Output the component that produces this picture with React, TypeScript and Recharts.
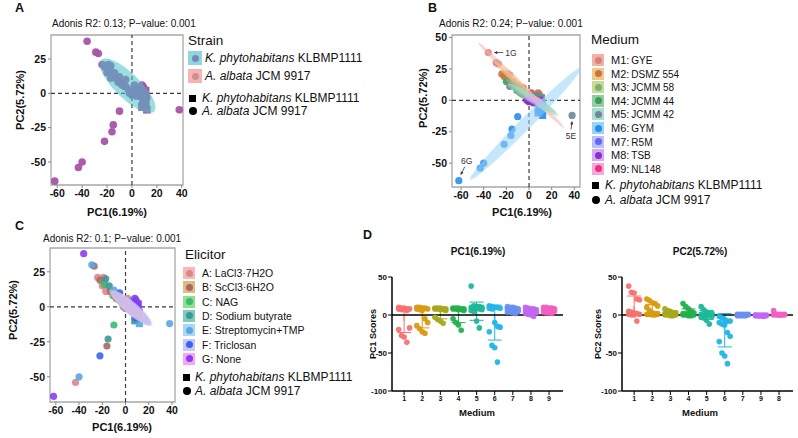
import React from 'react';
import {
  Bar,
  Cell,
  ComposedChart,
  ErrorBar,
  ReferenceArea,
  ReferenceLine,
  Scatter,
  XAxis,
  YAxis,
} from 'recharts';

const FONT = "'Liberation Sans', Arial, Helvetica, sans-serif";

// ---- labels ----
const mediumCodes = ['M1', 'M2', 'M3', 'M4', 'M5', 'M6', 'M7', 'M8', 'M9'];
const mediumNames = ['GYE', 'DSMZ 554', 'JCMM 58', 'JCMM 44', 'JCMM 42', 'GYM', 'R5M', 'TSB', 'NL148'];
const elicitorCodes = ['A', 'B', 'C', 'D', 'E', 'F', 'G'];
const elicitorNames = ['LaCl3·7H2O', 'ScCl3·6H2O', 'NAG', 'Sodium butyrate', 'Streptomycin+TMP', 'Triclosan', 'None'];
const adonisTitles = ['Adonis R2: 0.13; P−value: 0.001', 'Adonis R2: 0.24; P−value: 0.001', 'Adonis R2: 0.1; P−value: 0.001'];

// ---- PCA scores: per medium, one [PC1, PC2] pair per elicitor A..G ----
const albataScores: number[][][] = [
  [[-19, 21], [-27, 29], [8, -8], [-17, 20], [-29, 30], [9, 5], [-36, 38]],
  [[-24, 21], [-22, 19], [-18, 16], [-14, 15], [-10, 12], [-5, 10], [8, 6]],
  [[-11, 8], [-8, 6], [-6, 5], [-3, 3], [8, 1], [9, 0], [7, 2]],
  [[-20, 15], [-13, 11], [-10, 8], [-5, 5], [8, 3], [9, 1], [7, 0]],
  [[-17, 11], [-8, 7], [5, 4], [9, 2], [38, -12], [10, 0], [12, -3]],
  [[-43, -54], [-16, -28], [-10, -13], [-15, -23], [-40, -50], [-22, -35], [-62, -64]],
  [[2, 1], [4, 0], [6, -1], [8, 1], [10, 0], [11, -1], [5, 0]],
  [[-2, 0], [0, -1], [2, -1], [4, 0], [6, -1], [8, 0], [10, -1]],
  [[2, 6], [3, 0], [5, 1], [7, 0], [9, 1], [10, 0], [4, 0]],
];
const phytoScores: number[][][] = [
  [[8, 3], [7, 2], [10, 1], [9, 0], [6, 4], [8, 1], [7, 0]],
  [[9, 3], [10, 2], [7, 1], [9, 0], [8, 2], [10, 1], [6, 0]],
  [[8, -1], [9, 1], [6, 0], [8, 3], [7, -1], [9, 2], [8, 0]],
  [[8, 2], [9, -1], [6, 1], [8, 0], [7, 2], [9, 0], [8, -1]],
  [[11, -7], [8, -2], [6, 1], [9, -1], [7, 0], [10, -4], [11, 2]],
  [[10, -2], [9, -4], [11, -8], [8, -10], [12, -12], [10, -8], [9, -6]],
  [[7, 1], [9, -1], [3, 0], [6, 1], [8, 0], [10, 1], [4, -1]],
  [[3, 0], [5, -2], [7, -1], [9, 0], [1, -1], [6, 0], [8, -1]],
  [[6, 1], [8, 0], [10, 1], [5, 0], [7, 1], [9, 0], [3, 1]],
];

// confidence ellipses: [x1, y1, x2, y2, half width] (major axis ends, data units)
const strainEllipse = [-25, 24, 18, -13, 9.5];
const mediumEllipses = [
  [-45, 46, 31, -22, 2.4],
  [-31, 31, 20, -12, 2.6],
  [-16, 13, 23, -9, 2.4],
  [-21, 17, 24, -11, 2.6],
  [-19, 13, 26, -12, 3.2],
  [-52, -63, 46, 26, 5],
  [-3, 3, 13, -3, 2],
  [-5, 4, 12, -3, 2.2],
  [0, 3, 12, 0, 1.8],
];
const elicitorEllipses = [
  [-12, 11, 21, -12, 4.4],
  [-13, 11, 20, -11, 4],
  [-10, 9, 20, -12, 4],
  [-11, 9, 22, -13, 4.6],
  [-14, 12, 23, -13, 4.6],
  [-13, 11, 22, -12, 4.8],
  [-12, 10, 21, -12, 4.4],
];

// callouts in panel B
const callouts = [
  { text: '1G', medium: 0, elicitor: 6 },
  { text: '5E', medium: 4, elicitor: 4 },
  { text: '6G', medium: 5, elicitor: 6 },
];

// ---- panel D: bar means and SDs per medium ----
const pc1Mean = [-8, -5, 2, -1, 5, -10, 6, 5, 7];
const pc1Sd = [15, 12, 7, 9, 12, 23, 4, 4, 3];
const pc2Mean = [12, 6, 3, 3, 0, -20, 0, -1, 1];
const pc2Sd = [13, 8, 3, 5, 6, 22, 1, 1, 2];
const pc1TickLabels = ['1', '2', '3', '4', '5', '6', '7', '8', '9'];
const pc2TickLabels = ['1', '2', '3', '4', '5', '6', '7', '9', '8'];

const pcaTicksX = [-60, -40, -20, 0, 20, 40];
const pcaTicksYA = [-50, -25, 0, 25];
const pcaTicksYB = [-50, -25, 0, 25, 50];
const scoreTicks = [-100, -50, 0, 50];
const mediumTicks = [1, 2, 3, 4, 5, 6, 7, 8, 9];

// ---- colours ----
const strainPoint = '#a653a9';
const mediumDot = ['#d9827d', '#c7743f', '#76b46a', '#3f9a62', '#6f8797', '#2a8cf0', '#6666f2', '#8a2fc8', '#f0307f'];
const mediumBg = ['#f5b0a8', '#f2c88a', '#c8dc98', '#8fd09c', '#a8dcd4', '#98d4f6', '#b8c0fa', '#d8a8f4', '#f8a8d8'];
const elicitorDot = ['#d88888', '#a86a5e', '#3cba70', '#3a9898', '#5aa6e4', '#3a64f0', '#8a3cf0'];
const elicitorBg = ['#f6b8b8', '#e0bc80', '#8ee08e', '#80ccbc', '#a8d8f4', '#c8c8f8', '#f4a8f4'];
const scoreColors = ['#f4736f', '#d99a0e', '#a8a81a', '#22b14c', '#1bb89a', '#22b5e6', '#6a8ff2', '#c266f2', '#f05fc0'];
// drawing order of medium groups in panel B
const mediumDrawOrder = [8, 6, 0, 1, 2, 3, 4, 7, 5];

type Sample = { x: number; y: number; medium: number; elicitor: number; strain: 'K' | 'A' };
const samples: Sample[] = [];
albataScores.forEach((row, m) => row.forEach(([x, y], e) => samples.push({ x, y, medium: m, elicitor: e, strain: 'A' })));
phytoScores.forEach((row, m) => row.forEach(([x, y], e) => samples.push({ x, y, medium: m, elicitor: e, strain: 'K' })));

// outline of an ellipse given by its major-axis ends and half width
const ellipseOutline = ([x1, y1, x2, y2, half]: number[], n = 72) => {
  const h = (x1 + x2) / 2;
  const k = (y1 + y2) / 2;
  const a = Math.hypot(x2 - x1, y2 - y1) / 2;
  const t = Math.atan2(y2 - y1, x2 - x1);
  const c = Math.cos(t);
  const s = Math.sin(t);
  const out: { x: number; y: number }[] = [];
  for (let i = 0; i < n; i++) {
    const p = (2 * Math.PI * i) / n;
    const u = a * Math.cos(p);
    const v = half * Math.sin(p);
    out.push({ x: h + u * c - v * s, y: k + u * s + v * c });
  }
  return out;
};

const dotShape = (color: string, r: number, opacity = 0.9) => (p: any) => {
  const { cx, cy, payload } = p;
  if (!Number.isFinite(cx) || !Number.isFinite(cy)) return <g />;
  return payload && payload.strain === 'K' ? (
    <rect x={cx - r} y={cy - r} width={2 * r} height={2 * r} fill={color} fillOpacity={opacity} />
  ) : (
    <circle cx={cx} cy={cy} r={r} fill={color} fillOpacity={opacity} />
  );
};

const calloutLayout: Record<string, any> = {
  '1G': { tx: 17, ty: 0, anchor: 'start', ax1: 15, ay1: 0, ax2: 6, ay2: 0 },
  '5E': { tx: -1, ty: 21, anchor: 'middle', ax1: -1, ay1: 14, ax2: 0, ay2: 6 },
  '6G': { tx: 8, ty: -20, anchor: 'middle', ax1: 6, ay1: -14, ax2: 2, ay2: -6 },
};

const calloutShape = (p: any) => {
  const { cx, cy, payload } = p;
  if (!Number.isFinite(cx) || !Number.isFinite(cy)) return <g />;
  const o = calloutLayout[payload.text];
  const sx = cx + o.ax1, sy = cy + o.ay1, ex = cx + o.ax2, ey = cy + o.ay2;
  const len = Math.hypot(ex - sx, ey - sy) || 1;
  const ux = (ex - sx) / len, uy = (ey - sy) / len;
  const head = `${ex},${ey} ${ex - 3 * ux - 1.6 * uy},${ey - 3 * uy + 1.6 * ux} ${ex - 3 * ux + 1.6 * uy},${ey - 3 * uy - 1.6 * ux}`;
  return (
    <g>
      <line x1={sx} y1={sy} x2={ex} y2={ey} stroke="#333" strokeWidth={0.8} />
      <polygon points={head} fill="#333" />
      <text x={cx + o.tx} y={cy + o.ty} fontSize={8.5} fill="#333" textAnchor={o.anchor} dominantBaseline="central" fontFamily={FONT}>
        {payload.text}
      </text>
    </g>
  );
};

const tickStyle = { fontSize: 10.5, fontWeight: 700, fill: '#111', fontFamily: FONT };

type Frame = {
  left: number; top: number; width: number; height: number;
  mTop: number; mRight: number; yW: number; xH: number;
  xd: number[]; yd: number[]; yTicks: number[];
};

const PcaChart = ({ f, items }: { f: Frame; items: React.ReactNode[] }) => (
  <div style={{ position: 'absolute', left: f.left, top: f.top }}>
    <ComposedChart width={f.width} height={f.height} margin={{ top: f.mTop, right: f.mRight, bottom: 0, left: 0 }}>
      <XAxis type="number" dataKey="x" domain={f.xd} ticks={pcaTicksX} interval={0} allowDataOverflow axisLine={false}
        tickLine={{ stroke: '#888' }} tickSize={3} tickMargin={2} height={f.xH} tick={tickStyle} />
      <YAxis type="number" dataKey="y" domain={f.yd} ticks={f.yTicks} interval={0} allowDataOverflow axisLine={false}
        tickLine={{ stroke: '#888' }} tickSize={3} tickMargin={2} width={f.yW} tick={tickStyle} />
      {items}
      <ReferenceLine x={0} stroke="#3a3a3a" strokeDasharray="4 3" strokeWidth={1.2} />
      <ReferenceLine y={0} stroke="#3a3a3a" strokeDasharray="4 3" strokeWidth={1.2} />
      <ReferenceArea x1={f.xd[0]} x2={f.xd[1]} y1={f.yd[0]} y2={f.yd[1]} fill="none" fillOpacity={0} stroke="#a8a8a8" strokeWidth={1.3} ifOverflow="visible" />
    </ComposedChart>
  </div>
);

// ellipse drawn as a Scatter whose joining line is a filled polygon
const ellipseSeries = (key: string, e: number[], fill: string, opacity: number) => (
  <Scatter
    key={key}
    data={ellipseOutline(e)}
    shape={() => <g />}
    line={(p: any) => {
      const pts = (p && p.points) || [];
      if (!pts.length) return <g />;
      const d = pts.map((q: any, i: number) => `${i ? 'L' : 'M'}${q.x},${q.y}`).join(' ') + ' Z';
      return <path d={d} fill={fill} fillOpacity={opacity} stroke="none" />;
    }}
    isAnimationActive={false}
  />
);

const swarm = (vals: number[], m: number) =>
  vals
    .map((v, i) => [v, i])
    .sort((a, b) => b[0] - a[0])
    .map(([v], k) => ({ x: m + ((k % 5) - 2) * 0.15, y: v }));

const ScoreChart = ({ left, width, mRight, values, means, sds, tickLabels }: any) => {
  const rows = means.map((v: number, i: number) => ({ x: i + 1, mean: v }));
  return (
    <div style={{ position: 'absolute', left, top: 260 }}>
      <ComposedChart width={width} height={150} data={rows} margin={{ top: 17, right: mRight, bottom: 0, left: 0 }}>
        <XAxis type="number" dataKey="x" domain={[0.33, 9.77]} ticks={mediumTicks} interval={0} allowDataOverflow
          tickFormatter={(v: number) => tickLabels[v - 1]} axisLine={{ stroke: '#000', strokeWidth: 1.5 }}
          tickLine={{ stroke: '#000' }} tickSize={4} tickMargin={1} height={19}
          tick={{ fontSize: 7, fontWeight: 700, fill: '#111', fontFamily: FONT }} />
        <YAxis type="number" dataKey="y" domain={[-100, 50]} ticks={scoreTicks} interval={0} allowDataOverflow
          axisLine={{ stroke: '#000', strokeWidth: 1.5 }} tickLine={{ stroke: '#000' }} tickSize={4} tickMargin={1} width={52}
          tick={{ fontSize: 8, fontWeight: 700, fill: '#111', fontFamily: FONT }} />
        <Bar dataKey="mean" barSize={13} isAnimationActive={false}>
          {rows.map((_: any, i: number) => (
            <Cell key={i} fill={scoreColors[i]} fillOpacity={0.35} />
          ))}
        </Bar>
        {means.map((v: number, i: number) => (
          <Scatter key={`e${i}`} data={[{ x: i + 1, y: v, sd: sds[i] }]} shape={() => <g />} isAnimationActive={false}>
            <ErrorBar dataKey="sd" direction="y" width={7} stroke={scoreColors[i]} strokeWidth={1} />
          </Scatter>
        ))}
        {values.map((vals: number[], i: number) => (
          <Scatter key={`d${i}`} data={swarm(vals, i + 1)} shape={dotShape(scoreColors[i], 2.8, 0.95)} isAnimationActive={false} />
        ))}
        <ReferenceLine y={0} stroke="#000" strokeWidth={1.6} />
      </ComposedChart>
    </div>
  );
};

const Txt = ({ x, y, size, bold, center, rotate, color, children }: any) => (
  <div
    style={{
      position: 'absolute', left: x, top: y, fontSize: size, fontWeight: bold ? 700 : 400, lineHeight: 1,
      whiteSpace: 'nowrap', color: color || '#111',
      transform: `translate(${center || rotate ? '-50%' : '0'}, -50%)${rotate ? ' rotate(-90deg)' : ''}`,
    }}
  >
    {children}
  </div>
);

const KeyBox = ({ x, cy, size, bg, dot, dotSize }: any) => (
  <div style={{ position: 'absolute', left: x, top: cy - size / 2, width: size, height: size, background: bg }}>
    <div style={{ position: 'absolute', left: (size - dotSize) / 2, top: (size - dotSize) / 2, width: dotSize, height: dotSize, borderRadius: '50%', background: dot }} />
  </div>
);

const ShapeLegend = ({ x, textX, cy1, cy2 }: any) => (
  <>
    <div style={{ position: 'absolute', left: x, top: cy1 - 3.5, width: 7, height: 7, background: '#000' }} />
    <Txt x={textX} y={cy1} size={12}><i>K. phytohabitans</i> KLBMP1111</Txt>
    <div style={{ position: 'absolute', left: x, top: cy2 - 4, width: 8, height: 8, borderRadius: '50%', background: '#000' }} />
    <Txt x={textX} y={cy2} size={12}><i>A. albata</i> JCM 9917</Txt>
  </>
);

export default function App() {
  const frameA: Frame = { left: 0, top: 0, width: 190, height: 215, mTop: 35, mRight: 7, yW: 51, xH: 30, xd: [-65, 41], yd: [-66.8, 42.5], yTicks: pcaTicksYA };
  const frameB: Frame = { left: 400, top: 0, width: 185, height: 215, mTop: 35, mRight: 5, yW: 52, xH: 28, xd: [-68, 45], yd: [-69, 52], yTicks: pcaTicksYB };
  const frameC: Frame = { left: 0, top: 215, width: 180, height: 205, mTop: 33, mRight: 5, yW: 50, xH: 18, xd: [-65, 42.6], yd: [-68, 42], yTicks: pcaTicksYA };

  const itemsA = [
    <Scatter key="pts" data={samples} shape={dotShape(strainPoint, 3.8, 0.95)} isAnimationActive={false} />,
    ellipseSeries('ell', strainEllipse, '#49c3c6', 0.55),
  ];

  const itemsB = [
    ...mediumDrawOrder.map((m) => (
      <Scatter key={`m${m}`} data={samples.filter((s) => s.medium === m)} shape={dotShape(mediumDot[m], 3.6, 0.9)} isAnimationActive={false} />
    )),
    ...mediumEllipses.map((e, m) => ellipseSeries(`me${m}`, e, mediumBg[m], 0.55)),
    <Scatter key="callouts"
      data={callouts.map((c) => ({ x: albataScores[c.medium][c.elicitor][0], y: albataScores[c.medium][c.elicitor][1], text: c.text }))}
      shape={calloutShape} isAnimationActive={false} />,
  ];

  const itemsC = [
    ...elicitorCodes.map((_, e) => (
      <Scatter key={`el${e}`} data={samples.filter((s) => s.elicitor === e)} shape={dotShape(elicitorDot[e], 3.6, 0.9)} isAnimationActive={false} />
    )),
    ...elicitorEllipses.map((el, e) => ellipseSeries(`ee${e}`, el, elicitorBg[e], 0.45)),
  ];

  const pc1ByMedium = mediumCodes.map((_, m) => samples.filter((s) => s.medium === m).map((s) => s.x));
  const pc2ByMedium = mediumCodes.map((_, m) => samples.filter((s) => s.medium === m).map((s) => s.y));

  return (
    <div style={{ position: 'absolute', left: 0, top: 0, width: 798, height: 438, background: '#fff', overflow: 'hidden', fontFamily: FONT, color: '#111' }}>
      <PcaChart f={frameA} items={itemsA} />
      <PcaChart f={frameB} items={itemsB} />
      <PcaChart f={frameC} items={itemsC} />
      <ScoreChart left={340} width={235} mRight={12} values={pc1ByMedium} means={pc1Mean} sds={pc1Sd} tickLabels={pc1TickLabels} />
      <ScoreChart left={570} width={228} mRight={5} values={pc2ByMedium} means={pc2Mean} sds={pc2Sd} tickLabels={pc2TickLabels} />

      {/* panel letters */}
      <Txt x={15} y={8} size={12.5} bold>A</Txt>
      <Txt x={428} y={8} size={12.5} bold>B</Txt>
      <Txt x={15} y={226} size={12.5} bold>C</Txt>
      <Txt x={363} y={235} size={12.5} bold>D</Txt>

      {/* titles */}
      <Txt x={52} y={24} size={10}>{adonisTitles[0]}</Txt>
      <Txt x={439} y={24} size={10}>{adonisTitles[1]}</Txt>
      <Txt x={43} y={239} size={10}>{adonisTitles[2]}</Txt>

      {/* axis labels */}
      <Txt x={20} y={100} size={11} bold rotate>PC2(5.72%)</Txt>
      <Txt x={117} y={212} size={11} bold center>PC1(6.19%)</Txt>
      <Txt x={423} y={98} size={11} bold rotate>PC2(5.72%)</Txt>
      <Txt x={522} y={212} size={11} bold center>PC1(6.19%)</Txt>
      <Txt x={13} y={310} size={11} bold rotate>PC2(5.72%)</Txt>
      <Txt x={122} y={427} size={11} bold center>PC1(6.19%)</Txt>

      {/* legend A */}
      <Txt x={188} y={41} size={13.5}>Strain</Txt>
      <KeyBox x={188} cy={58} size={14} bg="#8ed8d8" dot="#7c84c4" dotSize={7} />
      <Txt x={205} y={58} size={12}><i>K. phytohabitans</i> KLBMP1111</Txt>
      <KeyBox x={188} cy={76} size={14} bg="#f6b4b4" dot="#d48c8c" dotSize={7} />
      <Txt x={205} y={76} size={12}><i>A. albata</i> JCM 9917</Txt>
      <ShapeLegend x={189} textX={202} cy1={98} cy2={111} />

      {/* legend B */}
      <Txt x={591} y={40} size={13.5}>Medium</Txt>
      {mediumCodes.map((code, m) => (
        <React.Fragment key={code}>
          <KeyBox x={592} cy={60 + m * 13.6} size={12} bg={mediumBg[m]} dot={mediumDot[m]} dotSize={7} />
          <Txt x={611} y={60 + m * 13.6} size={11}>
            {code}:<span style={{ fontSize: 10, marginLeft: 2 }}>{mediumNames[m]}</span>
          </Txt>
        </React.Fragment>
      ))}
      <ShapeLegend x={592} textX={605} cy1={185} cy2={200} />

      {/* legend C */}
      <Txt x={185} y={255} size={13.5}>Elicitor</Txt>
      {elicitorCodes.map((code, e) => (
        <React.Fragment key={code}>
          <KeyBox x={183} cy={273 + e * 14.3} size={12} bg={elicitorBg[e]} dot={elicitorDot[e]} dotSize={7} />
          <Txt x={202} y={273 + e * 14.3} size={10.5}>{code}: {elicitorNames[e]}</Txt>
        </React.Fragment>
      ))}
      <ShapeLegend x={183} textX={195} cy1={377} cy2={391} />

      {/* panel D labels */}
      <Txt x={478} y={252} size={10} bold center>PC1(6.19%)</Txt>
      <Txt x={700} y={252} size={10} bold center>PC2(5.72%)</Txt>
      <Txt x={373} y={334} size={9} bold rotate>PC1 Scores</Txt>
      <Txt x={598} y={334} size={9} bold rotate>PC2 Scores</Txt>
      <Txt x={477} y={413} size={9.5} bold center>Medium</Txt>
      <Txt x={700} y={413} size={9.5} bold center>Medium</Txt>
    </div>
  );
}
